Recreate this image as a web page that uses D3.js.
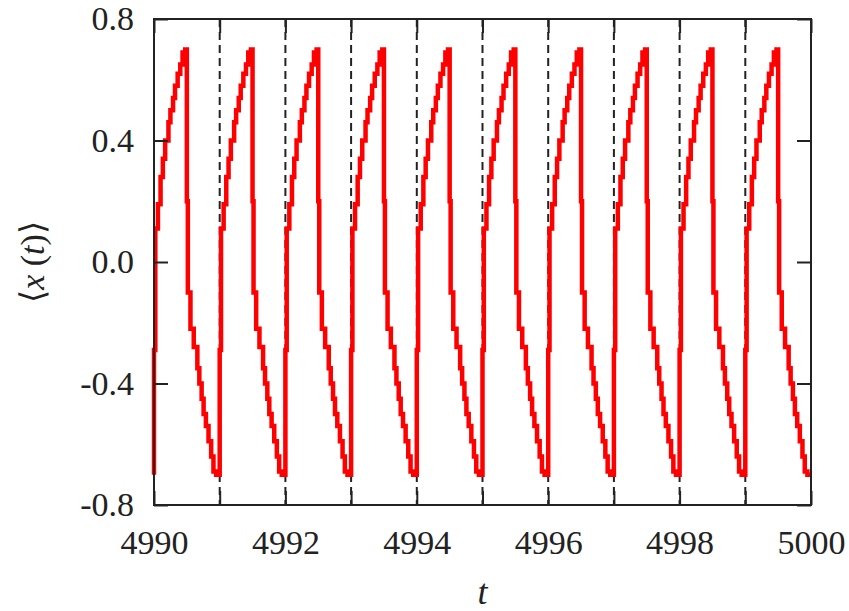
<!DOCTYPE html>
<html>
<head>
<meta charset="utf-8">
<script src="https://cdn.jsdelivr.net/npm/d3@7"></script>
</head>
<body style="margin:0">
<div id="chart"></div>
<script>
// one period of <x(t)>: offset inside the period and the value
// reached at that offset (the curve is drawn as steps, like the original)
var periodOffsets = [0.00, 0.02, 0.06, 0.10, 0.135, 0.17, 0.22, 0.25, 0.29, 0.32, 0.36, 0.40, 0.435, 0.475, 0.50,
                     0.515, 0.555, 0.605, 0.66, 0.69, 0.725, 0.755, 0.79, 0.83, 0.87, 0.905, 0.945];
var periodValues = [-0.70, -0.29, 0.11, 0.19, 0.28, 0.34, 0.40, 0.46, 0.50, 0.54, 0.58, 0.62, 0.65, 0.69, 0.70,
                    0.20, -0.10, -0.22, -0.28, -0.35, -0.40, -0.45, -0.50, -0.54, -0.59, -0.64, -0.69];
// the period is repeated from each of these start times
var cycleStarts = [4990, 4991, 4992, 4993, 4994, 4995, 4996, 4997, 4998, 4999];
var endPoint = [5000, -0.70];
var xTicks = [4990, 4991, 4992, 4993, 4994, 4995, 4996, 4997, 4998, 4999, 5000];
var xLabels = [4990, 4992, 4994, 4996, 4998, 5000];
var dashedAt = [4991, 4992, 4993, 4994, 4995, 4996, 4997, 4998, 4999];
var yTicks = [-0.8, -0.4, 0.0, 0.4, 0.8];

var width = 849, height = 611;
var margin = { top: 19, right: 38, bottom: 106, left: 154 };
var w = width - margin.left - margin.right;
var h = height - margin.top - margin.bottom;
var ink = '#222';
var serif = 'Liberation Serif';

var svg = d3.select('#chart').append('svg')
    .attr('width', width)
    .attr('height', height)
    .attr('font-family', serif)
    .style('display', 'block');

var g = svg.append('g')
    .attr('transform', 'translate(' + margin.left + ',' + margin.top + ')');

var x = d3.scaleLinear().domain([4990, 5000]).range([0, w]);
var y = d3.scaleLinear().domain([-0.8, 0.8]).range([h, 0]);

// build the points
var points = [];
cycleStarts.forEach(function(t0) {
    periodOffsets.forEach(function(dt, i) {
        points.push([t0 + dt, periodValues[i]]);
    });
});
points.push(endPoint);

g.append('clipPath').attr('id', 'plot-clip')
    .append('rect').attr('x', -3).attr('width', w + 3).attr('height', h);

// dashed vertical lines at the integer times
g.selectAll('.vline')
    .data(dashedAt)
    .enter()
    .append('line')
    .attr('class', 'vline')
    .attr('x1', function(d) { return x(d); })
    .attr('x2', function(d) { return x(d); })
    .attr('y1', 0)
    .attr('y2', h)
    .attr('stroke', ink)
    .attr('stroke-width', 2)
    .attr('stroke-dasharray', '8,5');

var line = d3.line()
    .curve(d3.curveStepBefore)
    .x(function(d) { return x(d[0]); })
    .y(function(d) { return y(d[1]); });

g.append('path')
    .datum(points)
    .attr('clip-path', 'url(#plot-clip)')
    .attr('d', line)
    .attr('fill', 'none')
    .attr('stroke', '#ff0000')
    .attr('stroke-width', 4.5)
    .attr('stroke-linejoin', 'miter');

// axes, ticks pointing inwards
function styleAxis(sel) {
    sel.attr('font-family', serif).attr('font-size', 34);
    sel.select('.domain').remove();
    sel.selectAll('.tick line').attr('stroke', ink).attr('stroke-width', 2);
    sel.selectAll('.tick text')
        .attr('fill', ink)
        .attr('font-family', serif)
        .attr('font-size', 34);
}

g.append('g')
    .attr('transform', 'translate(0,' + h + ')')
    .call(d3.axisBottom(x).tickValues(xTicks).tickSize(-14).tickPadding(25)
        .tickFormat(function(d) { return xLabels.indexOf(d) >= 0 ? d : ''; }))
    .call(styleAxis);

g.append('g')
    .call(d3.axisTop(x).tickValues(xTicks).tickSize(-14).tickFormat(''))
    .call(styleAxis);

g.append('g')
    .call(d3.axisLeft(y).tickValues(yTicks).tickSize(-14).tickPadding(20)
        .tickFormat(function(d) { return d.toFixed(1); }))
    .call(styleAxis);

g.append('g')
    .attr('transform', 'translate(' + w + ',0)')
    .call(d3.axisRight(y).tickValues(yTicks).tickSize(-14).tickFormat(''))
    .call(styleAxis);

// frame
g.append('rect')
    .attr('width', w)
    .attr('height', h)
    .attr('fill', 'none')
    .attr('stroke', ink)
    .attr('stroke-width', 2);

// axis titles
svg.append('text')
    .attr('x', margin.left + w / 2)
    .attr('y', 604)
    .attr('text-anchor', 'middle')
    .attr('fill', ink)
    .attr('font-family', serif)
    .attr('font-size', 36)
    .attr('font-style', 'italic')
    .text('t');

var yTitle = svg.append('text')
    .attr('transform', 'translate(44,' + (margin.top + h / 2) + ') rotate(-90)')
    .attr('text-anchor', 'middle')
    .attr('fill', ink)
    .attr('font-family', serif)
    .attr('font-size', 34);
yTitle.append('tspan').text('\u27E8');
yTitle.append('tspan').attr('font-style', 'italic').text('x');
yTitle.append('tspan').text(' (');
yTitle.append('tspan').attr('font-style', 'italic').text('t');
yTitle.append('tspan').text(')\u27E9');
</script>
</body>
</html>
